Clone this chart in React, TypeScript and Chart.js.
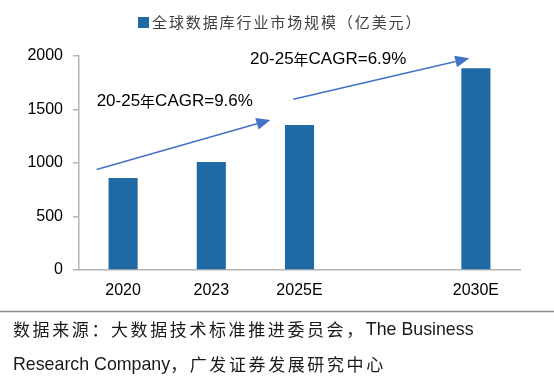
import { useEffect, useRef } from 'react';
import { Chart, registerables } from 'chart.js';

Chart.register(...registerables);

const categories = ['2020', '2023', '2025E', '', '2030E'];
const marketSize: (number | null)[] = [860, 1010, 1355, null, 1885];
const yTickValues = [0, 500, 1000, 1500, 2000];
const seriesName = '全球数据库行业市场规模（亿美元）';
const cagrNotes = ['20-25年CAGR=9.6%', '20-25年CAGR=6.9%'];
const sourceLine1 = ['数据来源：大数据技术标准推进委员会，', 'The Business'];
const sourceLine2 = ['Research Company', '，广发证券发展研究中心'];

const BAR_COLOR = '#1f6aa5';
const AXIS_COLOR = '#b5b5b5';
const ARROW_COLOR = '#4472c4';
const LATIN = "'Liberation Sans', Arial, sans-serif";
const CJK = "'Noto Sans CJK SC', sans-serif";

// annotation placement in data space: [category index, value]
const arrows = [
  { from: [-0.3, 940], to: [1.67, 1402] },
  { from: [1.93, 1595], to: [3.925, 1978] },
];
const notePos = [
  [-0.3, 1573],
  [1.44, 1972],
];

function isCjk(ch: string) {
  return /[\u3000-\u9fff\uff00-\uffef]/.test(ch);
}

function drawMixed(ctx: any, text: string, x: number, y: number, latinSize: number, cjkSize: number, cjkSpacing: number) {
  let cx = x;
  for (const ch of Array.from(text)) {
    const cj = isCjk(ch);
    ctx.font = cj ? `${cjkSize}px ${CJK}` : `${latinSize}px ${LATIN}`;
    ctx.fillText(ch, cx, y);
    cx += ctx.measureText(ch).width + (cj ? cjkSpacing : 0);
  }
  return cx;
}

const overlayPlugin = {
  id: 'overlay',
  afterDraw(chart: any) {
    const { ctx, scales } = chart;
    const xs = scales.x;
    const ys = scales.y;
    ctx.save();
    ctx.textBaseline = 'middle';
    ctx.textAlign = 'left';

    // legend
    ctx.fillStyle = BAR_COLOR;
    ctx.fillRect(138, 17, 11, 11);
    ctx.fillStyle = '#404040';
    drawMixed(ctx, seriesName, 152, 22.5, 15, 15, 1.9);

    // arrows
    ctx.strokeStyle = ARROW_COLOR;
    ctx.fillStyle = ARROW_COLOR;
    ctx.lineWidth = 1.5;
    for (const a of arrows) {
      const x1 = xs.getPixelForValue(a.from[0]);
      const y1 = ys.getPixelForValue(a.from[1]);
      const x2 = xs.getPixelForValue(a.to[0]);
      const y2 = ys.getPixelForValue(a.to[1]);
      const ang = Math.atan2(y2 - y1, x2 - x1);
      const len = 14;
      const half = 6;
      const bx = x2 - len * Math.cos(ang);
      const by = y2 - len * Math.sin(ang);
      ctx.beginPath();
      ctx.moveTo(x1, y1);
      ctx.lineTo(bx, by);
      ctx.stroke();
      ctx.beginPath();
      ctx.moveTo(x2, y2);
      ctx.lineTo(bx + half * Math.sin(ang), by - half * Math.cos(ang));
      ctx.lineTo(bx - half * Math.sin(ang), by + half * Math.cos(ang));
      ctx.closePath();
      ctx.fill();
    }

    // CAGR notes
    ctx.fillStyle = '#000';
    cagrNotes.forEach((t, i) => {
      const px = xs.getPixelForValue(notePos[i][0]);
      const py = ys.getPixelForValue(notePos[i][1]);
      drawMixed(ctx, t, px, py, 17, 15, 0);
    });

    // footer rule
    ctx.strokeStyle = '#8c8c8c';
    ctx.lineWidth = 1.5;
    ctx.beginPath();
    ctx.moveTo(0, 311.5);
    ctx.lineTo(554, 311.5);
    ctx.stroke();

    // source text
    ctx.fillStyle = '#1a1a1a';
    drawMixed(ctx, sourceLine1.join(''), 13, 330, 17.8, 17, 2.6);
    drawMixed(ctx, sourceLine2.join(''), 13, 365, 17.8, 17, 2.6);
    ctx.restore();
  },
};

export default function App() {
  const ref = useRef<HTMLCanvasElement | null>(null);

  useEffect(() => {
    if (!ref.current) return;
    const chart = new Chart(ref.current, {
      type: 'bar',
      data: {
        labels: categories,
        datasets: [
          {
            label: seriesName,
            data: marketSize,
            backgroundColor: BAR_COLOR,
            barPercentage: 0.33,
            categoryPercentage: 1,
          },
        ],
      },
      options: {
        responsive: false,
        animation: false,
        layout: { padding: { top: 56, right: 34, bottom: 0, left: 0 } },
        plugins: {
          legend: { display: false },
          tooltip: { enabled: false },
        },
        scales: {
          x: {
            grid: { display: false, drawTicks: false },
            border: { display: true, color: AXIS_COLOR, width: 1.5 },
            ticks: { color: '#000', font: { family: LATIN, size: 16 }, padding: 11, maxRotation: 0, autoSkip: false },
            afterFit: (s: any) => {
              s.height = 112;
            },
          },
          y: {
            min: 0,
            max: 2000,
            afterBuildTicks: (s: any) => {
              s.ticks = yTickValues.map((v) => ({ value: v }));
            },
            grid: { display: true, drawOnChartArea: false, drawTicks: true, tickLength: 6, color: AXIS_COLOR, lineWidth: 1.5 },
            border: { display: true, color: AXIS_COLOR, width: 1.5 },
            ticks: {
              color: '#000',
              font: { family: LATIN, size: 16 },
              padding: 10,
              callback: (v: any) => String(v),
            },
            afterFit: (s: any) => {
              s.width = 79;
            },
          },
        },
      },
      plugins: [overlayPlugin],
    });
    return () => chart.destroy();
  }, []);

  return (
    <div style={{ position: 'fixed', left: 0, top: 0, width: 554, height: 382, background: '#fff' }}>
      <canvas ref={ref} width={554} height={382} style={{ display: 'block' }} />
    </div>
  );
}
